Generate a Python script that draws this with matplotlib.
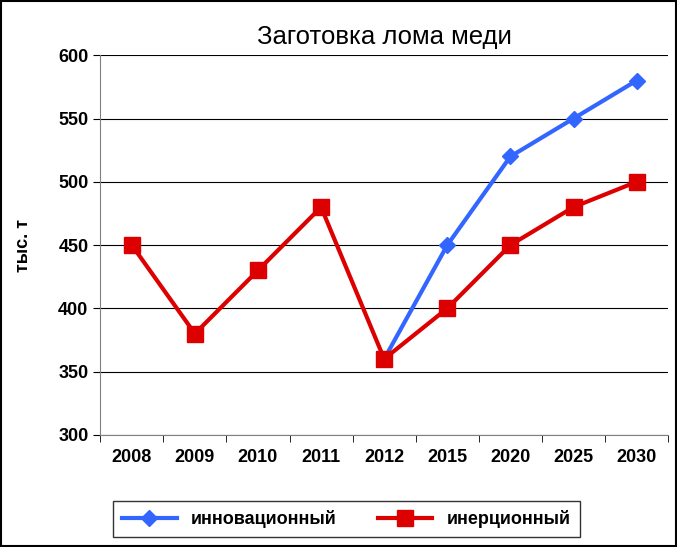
import matplotlib
matplotlib.use("Agg")
import matplotlib.pyplot as plt
from matplotlib.patches import Rectangle

years = ["2008", "2009", "2010", "2011", "2012", "2015", "2020", "2025", "2030"]
inertial = [450, 380, 430, 480, 360, 400, 450, 480, 500]
innov_years = ["2012", "2015", "2020", "2025", "2030"]
innovative = [360, 450, 520, 550, 580]

plt.rcParams['font.family'] = ['Liberation Sans', 'DejaVu Sans']
fig = plt.figure(figsize=(6.77, 5.47), dpi=100)
ax = fig.add_axes([0.148, 0.205, 0.839, 0.694])
x = list(range(len(years)))
xi = [years.index(y) for y in innov_years]
ax.plot(xi, innovative, color='#3366FF', lw=3, marker='D', ms=8, label='инновационный', zorder=3)
ax.plot(x, inertial, color='#DD0000', lw=3, marker='s', ms=11, label='инерционный', zorder=4)
ax.set_xlim(-0.5, len(years) - 0.5)
ax.set_ylim(300, 600)
ax.set_yticks(range(300, 601, 50))
ax.set_xticks(x)
ax.set_xticklabels(years)
ax.set_xticks([i + 0.5 for i in range(-1, len(years))], minor=True)
ax.tick_params(axis='x', which='major', length=0, pad=10)
ax.tick_params(axis='x', which='minor', length=5, direction='out')
ax.tick_params(axis='y', length=5, direction='out')
for lab in ax.get_xticklabels() + ax.get_yticklabels():
    lab.set_fontsize(13); lab.set_fontweight('bold')
ax.grid(axis='y', color='black', lw=0.8)
for s in ['top', 'right']:
    ax.spines[s].set_visible(False)
ax.spines['left'].set_color('#808080')
ax.spines['bottom'].set_color('#808080')
ax.set_axisbelow(True)
ax.set_title('Заготовка лома меди', fontsize=18.5, pad=8)
ax.set_ylabel('тыс. т', fontsize=13, fontweight='bold', labelpad=19)
leg = fig.legend(loc='center', bbox_to_anchor=(0.512, 0.051), ncol=2, frameon=True,
                 fancybox=False, edgecolor='black', prop={'size': 13, 'weight': 'bold'},
                 borderpad=0.5, handlelength=3, columnspacing=2.3)
fig.patches.append(Rectangle((0.002, 0.002), 0.996, 0.996, transform=fig.transFigure,
                             fill=False, edgecolor='black', lw=1.5))
fig.savefig('out.png', dpi=100)
